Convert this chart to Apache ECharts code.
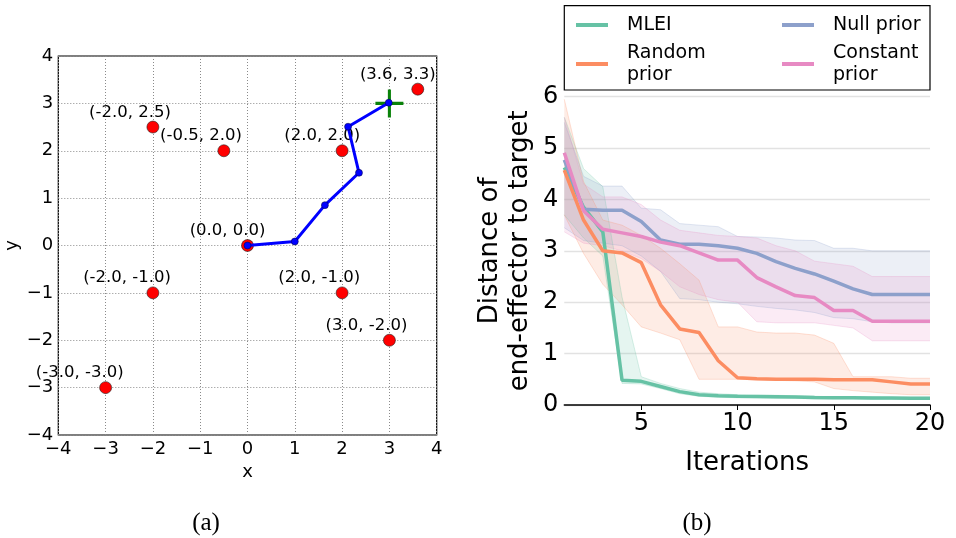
<!DOCTYPE html>
<html>
<head>
<meta charset="utf-8">
<script src="https://cdn.jsdelivr.net/npm/echarts@6/dist/echarts.min.js"></script>
<style>
html,body{margin:0;padding:0;background:#fff;}
#chart{width:956px;height:538px;}
</style>
</head>
<body>
<div id="chart"></div>
<script>
// ---------- Panel (a) data ----------
const obstaclesX = [-2.0, -0.5, 2.0, 3.6, 0.0, -2.0, 2.0, 3.0, -3.0];
const obstaclesY = [2.5, 2.0, 2.0, 3.3, 0.0, -1.0, -1.0, -2.0, -3.0];
const armX = [0, 1.0, 1.636, 2.357, 2.126, 2.986];
const armY = [0, 0.085, 0.852, 1.535, 2.507, 3.014];
const targetX = [3.0];
const targetY = [3.0];

// ---------- Panel (b) data ----------
const iterations = [1,2,3,4,5,6,7,8,9,10,11,12,13,14,15,16,17,18,19,20];
const seriesNames = ['MLEI', 'Random prior', 'Null prior', 'Constant prior'];
const mleiMean  = [4.62, 3.85, 3.37, 0.48, 0.46, 0.36, 0.26, 0.20, 0.18, 0.17, 0.165, 0.16, 0.155, 0.145, 0.14, 0.14, 0.135, 0.135, 0.13, 0.13];
const mleiLower = [3.70, 3.25, 2.90, 0.42, 0.41, 0.32, 0.22, 0.17, 0.15, 0.14, 0.14, 0.13, 0.13, 0.12, 0.12, 0.12, 0.11, 0.11, 0.11, 0.11];
const mleiUpper = [5.60, 4.60, 4.25, 2.10, 0.55, 0.42, 0.32, 0.25, 0.22, 0.20, 0.19, 0.19, 0.18, 0.17, 0.16, 0.16, 0.16, 0.15, 0.15, 0.15];
const randMean  = [4.57, 3.60, 3.00, 2.96, 2.77, 1.95, 1.48, 1.41, 0.86, 0.53, 0.51, 0.50, 0.50, 0.50, 0.49, 0.49, 0.49, 0.45, 0.41, 0.41];
const randLower = [3.70, 2.95, 2.35, 1.95, 1.52, 1.40, 1.27, 0.50, 0.50, 0.50, 0.49, 0.48, 0.47, 0.45, 0.32, 0.28, 0.25, 0.22, 0.20, 0.20];
const randUpper = [5.95, 4.35, 3.60, 3.50, 3.30, 3.05, 2.75, 2.43, 1.52, 1.52, 1.42, 1.40, 1.40, 1.36, 1.20, 0.55, 0.55, 0.55, 0.52, 0.52];
const nullMean  = [4.77, 3.81, 3.79, 3.79, 3.57, 3.21, 3.13, 3.13, 3.10, 3.05, 2.95, 2.79, 2.66, 2.55, 2.41, 2.26, 2.15, 2.15, 2.15, 2.15];
const nullLower = [3.45, 3.20, 3.15, 3.10, 2.90, 2.60, 2.07, 2.05, 2.00, 1.97, 1.92, 1.88, 1.85, 1.80, 1.70, 1.68, 1.62, 1.60, 1.60, 1.60];
const nullUpper = [5.50, 4.45, 4.26, 4.26, 3.83, 3.80, 3.53, 3.50, 3.47, 3.28, 3.27, 3.25, 3.21, 3.20, 3.05, 3.05, 3.00, 3.00, 3.00, 3.00];
const constMean  = [4.91, 3.78, 3.42, 3.35, 3.28, 3.17, 3.10, 2.96, 2.82, 2.82, 2.48, 2.30, 2.13, 2.09, 1.84, 1.84, 1.63, 1.63, 1.63, 1.63];
const constLower = [3.37, 3.15, 3.10, 3.00, 2.85, 2.60, 2.30, 2.15, 2.05, 2.00, 1.62, 1.60, 1.60, 1.60, 1.55, 1.50, 1.25, 1.25, 1.25, 1.25];
const constUpper = [5.60, 4.30, 4.05, 4.05, 3.90, 3.60, 3.40, 3.35, 3.30, 3.28, 3.25, 3.10, 3.00, 2.80, 2.75, 2.70, 2.50, 2.50, 2.50, 2.50];
const xTicksB = [5, 10, 15, 20];

const colors = ['#66c2a5', '#fc8d62', '#8da0cb', '#e78ac3'];
const means = [mleiMean, randMean, nullMean, constMean];
const lowers = [mleiLower, randLower, nullLower, constLower];
const uppers = [mleiUpper, randUpper, nullUpper, constUpper];

const FONT = 'DejaVu Sans';
const minusFmt = v => (v < 0 ? '\u2212' + (-v) : String(v));
const isTickB = (idx, val) => xTicksB.indexOf(Number(val)) >= 0;

const series = [];

// Panel (a)
series.push({
  type: 'scatter', xAxisIndex: 0, yAxisIndex: 0,
  data: targetX.map((x, i) => [x, targetY[i]]),
  symbol: 'path://M-1.1,-10 L1.1,-10 L1.1,-1.1 L10,-1.1 L10,1.1 L1.1,1.1 L1.1,10 L-1.1,10 L-1.1,1.1 L-10,1.1 L-10,-1.1 L-1.1,-1.1 Z',
  symbolSize: 28, itemStyle: { color: '#0a820a', opacity: 1 }, z: 3, silent: true
});
series.push({
  type: 'scatter', xAxisIndex: 0, yAxisIndex: 0,
  data: obstaclesX.map((x, i) => [x, obstaclesY[i]]),
  symbolSize: 12,
  itemStyle: { color: '#ff0000', borderColor: '#222', borderWidth: 0.6, opacity: 1 },
  label: {
    show: true, position: 'top', distance: 0, align: 'right', offset: [18, 0],
    formatter: p => '(' + p.value[0].toFixed(1) + ', ' + p.value[1].toFixed(1) + ')',
    color: '#000', fontFamily: FONT, fontSize: 16.5, opacity: 1
  },
  z: 2, silent: true
});
series.push({
  type: 'line', xAxisIndex: 0, yAxisIndex: 0,
  data: armX.map((x, i) => [x, armY[i]]),
  lineStyle: { color: '#0000ff', width: 3 },
  symbol: 'circle', symbolSize: 7, showAllSymbol: true,
  itemStyle: { color: '#0000ff', borderColor: '#000033', borderWidth: 0.5 },
  z: 4, silent: true
});

// Panel (b) bands
for (let k = 0; k < 4; k++) {
  series.push({
    type: 'line', xAxisIndex: 1, yAxisIndex: 1, stack: 'band' + k,
    data: lowers[k].slice(),
    symbol: 'none', lineStyle: { color: colors[k], width: 1, opacity: 0.25 },
    z: 1, silent: true
  });
  series.push({
    type: 'line', xAxisIndex: 1, yAxisIndex: 1, stack: 'band' + k,
    data: uppers[k].map((u, i) => +(u - lowers[k][i]).toFixed(3)),
    symbol: 'none', lineStyle: { color: colors[k], width: 1, opacity: 0.25 },
    areaStyle: { color: colors[k], opacity: 0.17 },
    z: 1, silent: true
  });
}
// Panel (b) mean lines
for (let k = 0; k < 4; k++) {
  series.push({
    name: seriesNames[k],
    type: 'line', xAxisIndex: 1, yAxisIndex: 1,
    data: means[k].slice(),
    symbol: 'none', lineStyle: { color: colors[k], width: 3.5 },
    itemStyle: { color: colors[k] },
    z: 3, silent: true
  });
}

const legendCommon = {
  orient: 'vertical', icon: 'rect', itemWidth: 32, itemHeight: 4, itemGap: 6,
  selectedMode: false, padding: 0,
  formatter: n => (n === 'Null prior' ? n : n.replace(' ', '\n')),
  textStyle: { fontFamily: FONT, fontSize: 19, color: '#000', lineHeight: 22, padding: [0, 0, 0, 14] }
};

const option = {
  animation: false,
  backgroundColor: '#fff',
  grid: [
    { left: 58.3, top: 56, width: 378.4, height: 379, show: true, borderColor: '#000', borderWidth: 1.2, backgroundColor: 'transparent' },
    { left: 564.3, top: 96.7, width: 365.7, height: 308.3 }
  ],
  xAxis: [
    {
      gridIndex: 0, type: 'value', min: -4, max: 4, interval: 1,
      name: 'x', nameLocation: 'middle', nameGap: 28,
      nameTextStyle: { fontFamily: FONT, fontSize: 18, color: '#000' },
      axisLine: { show: false }, axisTick: { show: false },
      axisLabel: { fontFamily: FONT, fontSize: 18, color: '#000', margin: 5, formatter: minusFmt },
      splitLine: { show: true, lineStyle: { color: '#8a8a8a', type: [1, 2], width: 1 } }
    },
    {
      gridIndex: 1, type: 'category', data: iterations, boundaryGap: false,
      name: 'Iterations', nameLocation: 'middle', nameGap: 45,
      nameTextStyle: { fontFamily: FONT, fontSize: 26, color: '#000' },
      axisLine: { show: true, onZero: false, lineStyle: { color: '#000', width: 1.5 } },
      axisTick: { show: true, length: 5, lineStyle: { color: '#000', width: 1 }, interval: isTickB, alignWithLabel: true },
      axisLabel: { fontFamily: FONT, fontSize: 24, color: '#000', margin: 7, interval: isTickB },
      splitLine: { show: false }
    }
  ],
  yAxis: [
    {
      gridIndex: 0, type: 'value', min: -4, max: 4, interval: 1,
      name: 'y', nameLocation: 'middle', nameGap: 37, nameRotate: 90,
      nameTextStyle: { fontFamily: FONT, fontSize: 18, color: '#000' },
      axisLine: { show: false }, axisTick: { show: false },
      axisLabel: { fontFamily: FONT, fontSize: 18, color: '#000', margin: 5, formatter: minusFmt },
      splitLine: { show: true, lineStyle: { color: '#8a8a8a', type: [1, 2], width: 1 } }
    },
    {
      gridIndex: 1, type: 'value', min: 0, max: 6, interval: 1,
      name: 'Distance of\nend-effector to target', nameLocation: 'middle', nameGap: 29, nameRotate: 90,
      nameTextStyle: { fontFamily: FONT, fontSize: 26, color: '#000', lineHeight: 30 },
      axisLine: { show: false }, axisTick: { show: false },
      axisLabel: { fontFamily: FONT, fontSize: 24, color: '#000', margin: 6 },
      splitLine: { show: true, lineStyle: { color: '#e2e2e2', width: 1.3 } }
    }
  ],
  legend: [
    Object.assign({}, legendCommon, { left: 576, top: 14, data: [seriesNames[0], seriesNames[1]] }),
    Object.assign({}, legendCommon, { left: 782, top: 14, data: [seriesNames[2], seriesNames[3]] })
  ],
  graphic: [
    { type: 'rect', z: -1, shape: { x: 564.3, y: 5.7, width: 365.7, height: 84.3 },
      style: { fill: '#fff', stroke: '#000', lineWidth: 1.2 } },
    { type: 'text', x: 206, y: 523, style: { text: '(a)', font: '25px "Liberation Serif"', fill: '#000', textAlign: 'center', textVerticalAlign: 'middle' } },
    { type: 'text', x: 697, y: 523, style: { text: '(b)', font: '25px "Liberation Serif"', fill: '#000', textAlign: 'center', textVerticalAlign: 'middle' } }
  ],
  series: series
};

const chart = echarts.init(document.getElementById('chart'));
chart.setOption(option);
</script>
</body>
</html>
